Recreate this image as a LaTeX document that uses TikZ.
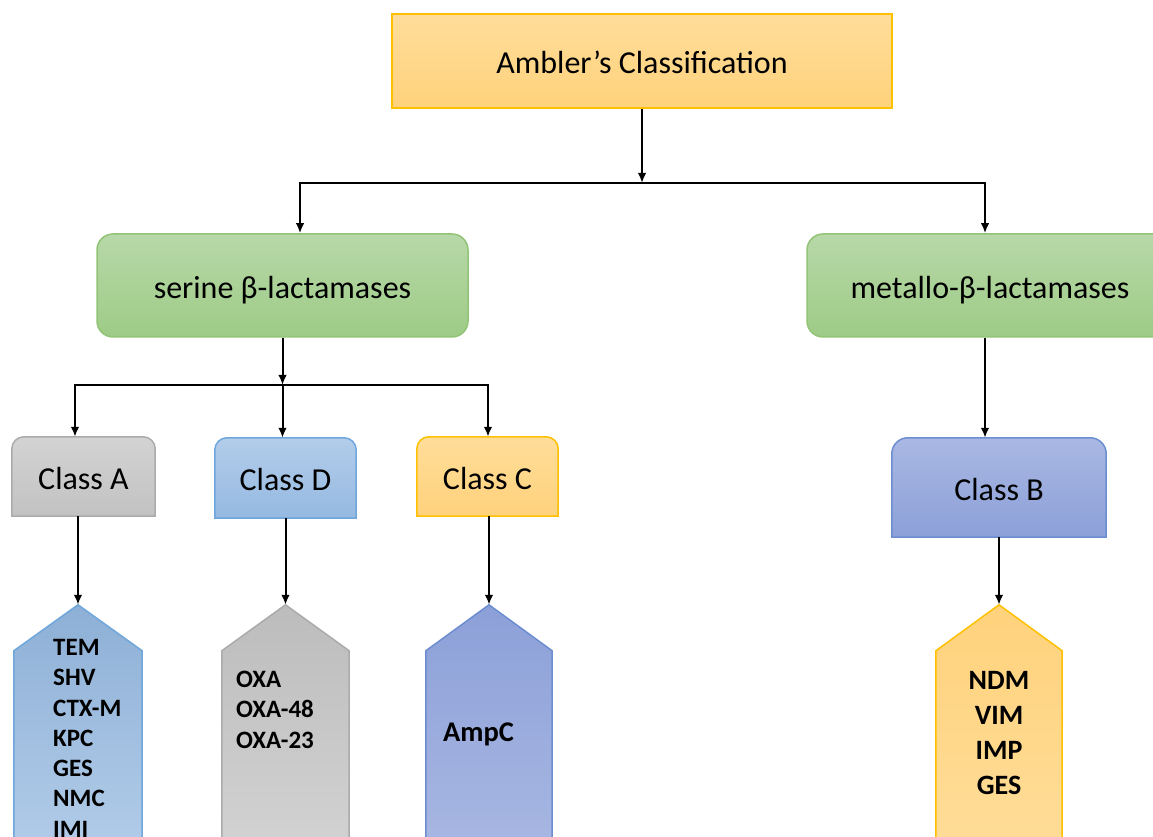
\documentclass[tikz,border=0pt]{standalone}
\usepackage{fontspec}
\setmainfont{Carlito}
\usetikzlibrary{arrows.meta,backgrounds}

\definecolor{ambTop}{HTML}{FFDD99}
\definecolor{ambBot}{HTML}{FFD27C}
\definecolor{ambLine}{HTML}{FFC000}
\definecolor{grnTop}{HTML}{B7D8A8}
\definecolor{grnBot}{HTML}{9ECB86}
\definecolor{grnLine}{HTML}{92C476}
\definecolor{grayTop}{HTML}{D3D3D3}
\definecolor{grayBot}{HTML}{C2C2C2}
\definecolor{grayLine}{HTML}{ABABAB}
\definecolor{bluTop}{HTML}{B3CDEA}
\definecolor{bluBot}{HTML}{95B9E1}
\definecolor{bluLine}{HTML}{6FA6DC}
\definecolor{indTop}{HTML}{A9B8E3}
\definecolor{indBot}{HTML}{8CA0D8}
\definecolor{indLine}{HTML}{6C8ED0}

\begin{document}
\begin{tikzpicture}[x=1pt,y=1pt,
        >={Latex[length=10pt,width=8.5pt]},
        wire/.style={line width=2pt,black},
        rim/.style={line width=1.5pt},
        lbl/.style={inner sep=0pt,text height=29pt,text depth=3pt,font=\fontsize{32}{38}\selectfont},
        topbox/.style={lbl,rim,draw=ambLine,top color=ambTop,bottom color=ambBot,minimum width=500,minimum height=94},
        fambox/.style={lbl,rim,draw=grnLine,rounded corners=16pt,top color=grnTop,bottom color=grnBot,minimum width=371,minimum height=103},
        clsbox/.style={lbl,minimum height=79},
        pentbox/.style={inner sep=0pt,minimum height=252},
        listtxt/.style={inner sep=0pt,align=left,font=\bfseries\fontsize{25}{30.3}\selectfont}]
        \useasboundingbox (0,0) rectangle (1153,837);
        \clip (0,0) rectangle (1153,837);

        \node[topbox] (amb) at (642,776) {Ambler’s Classification};
        \node[fambox] (serine) at (282.5,551.5) {serine β-lactamases};
        \node[fambox,minimum width=366] (metallo) at (990,551.5) {metallo-β-lactamases};

        \node[clsbox,minimum width=143] (clsA) at (83.5,360.5) {Class A};
        \node[clsbox,minimum width=141,minimum height=80] (clsD) at (285.5,359) {Class D};
        \node[clsbox,minimum width=141] (clsC) at (487.5,360.5) {Class C};
        \node[clsbox,minimum width=214,minimum height=99] (clsB) at (999,349.5) {Class B};

        \node[pentbox,minimum width=128] (pA) at (78,106) {};
        \node[pentbox,minimum width=127] (pD) at (285.5,106) {};
        \node[pentbox,minimum width=126] (pC) at (489,106) {};
        \node[pentbox,minimum width=126] (pB) at (999,106) {};

        \node[listtxt,anchor=north west] (lA) at (53,198) {TEM\\SHV\\CTX-M\\KPC\\GES\\NMC\\IMI};
        \node[listtxt,anchor=north west] (lD) at (236,166) {OXA\\OXA-48\\OXA-23};
        \node[listtxt,anchor=base west,font=\bfseries\fontsize{28.5}{34}\selectfont] (lC) at (443,95) {AmpC};
        \node[listtxt,anchor=north,align=center,font=\bfseries\fontsize{28}{35}\selectfont] (lB) at (999,166) {NDM\\VIM\\IMP\\GES};

        \begin{scope}[on background layer]
        \draw[rim,draw=grayLine,top color=grayTop,bottom color=grayBot] (clsA.south west) -- ([yshift=-12]clsA.north west) arc[start angle=180,end angle=90,radius=12] -- ([xshift=-12]clsA.north east) arc[start angle=90,end angle=0,radius=12] -- (clsA.south east) -- cycle;
        \draw[rim,draw=bluLine,top color=bluTop,bottom color=bluBot] (clsD.south west) -- ([yshift=-12]clsD.north west) arc[start angle=180,end angle=90,radius=12] -- ([xshift=-12]clsD.north east) arc[start angle=90,end angle=0,radius=12] -- (clsD.south east) -- cycle;
        \draw[rim,draw=ambLine,top color=ambTop,bottom color=ambBot] (clsC.south west) -- ([yshift=-12]clsC.north west) arc[start angle=180,end angle=90,radius=12] -- ([xshift=-12]clsC.north east) arc[start angle=90,end angle=0,radius=12] -- (clsC.south east) -- cycle;
        \draw[rim,draw=indLine,top color=indTop,bottom color=indBot] (clsB.south west) -- ([yshift=-16]clsB.north west) arc[start angle=180,end angle=90,radius=16] -- ([xshift=-16]clsB.north east) arc[start angle=90,end angle=0,radius=16] -- (clsB.south east) -- cycle;

        \draw[rim,draw=bluLine,top color=bluBot!95!black!100,bottom color=bluTop] (pA.south west) -- ([yshift=-46]pA.north west) -- (pA.north) -- ([yshift=-46]pA.north east) -- (pA.south east) -- cycle;
        \draw[rim,draw=grayLine,top color=grayBot!97!black,bottom color=grayTop] (pD.south west) -- ([yshift=-46]pD.north west) -- (pD.north) -- ([yshift=-46]pD.north east) -- (pD.south east) -- cycle;
        \draw[rim,draw=indLine,top color=indBot,bottom color=indTop] (pC.south west) -- ([yshift=-46]pC.north west) -- (pC.north) -- ([yshift=-46]pC.north east) -- (pC.south east) -- cycle;
        \draw[rim,draw=ambLine,top color=ambBot,bottom color=ambTop] (pB.south west) -- ([yshift=-46]pB.north west) -- (pB.north) -- ([yshift=-46]pB.north east) -- (pB.south east) -- cycle;
        \end{scope}

        \coordinate (j1) at (300,654);
        \coordinate (j2) at (985,654);
        \coordinate (j3) at (75,452);
        \coordinate (j4) at (488,452);
        \draw[wire,->] (amb.south) -- (amb.south |- j1);
        \draw[wire,<->] (j1 |- serine.north) -- (j1) -- (j2) -- (j2 |- metallo.north);
        \draw[wire,->] (serine.south) -- (serine.south |- j3);
        \draw[wire,<->] (j3 |- clsA.north) -- (j3) -- (j4) -- (j4 |- clsC.north);
        \draw[wire,->] (serine.south |- j3) -- (serine.south |- clsD.north);
        \draw[wire,->] (j2 |- metallo.south) -- (j2 |- clsB.north);
        \draw[wire,->] (clsA.south -| pA.north) -- (pA.north);
        \draw[wire,->] (clsD.south -| pD.north) -- (pD.north);
        \draw[wire,->] (clsC.south -| pC.north) -- (pC.north);
        \draw[wire,->] (clsB.south) -- (pB.north);
    \end{tikzpicture}
\end{document}
